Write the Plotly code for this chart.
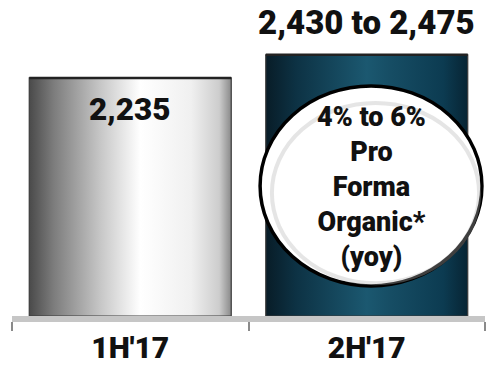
import plotly.graph_objects as go

categories = ["1H'17", "2H'17"]
values = [2235, 2452.5]
value_labels = ["2,235", "2,430 to 2,475"]
bubble_text = ["4% to 6%", "Pro", "Forma", "Organic*", "(yoy)"]

FONT = "Roboto"
W = 900
bar_w = 0.854

grad1 = [[0, '#4a4a4a'], [0.12, '#7c7c7c'], [0.35, '#c6c6c6'], [0.55, '#ffffff'],
         [0.8, '#f0f0f0'], [0.94, '#cdcdcd'], [1, '#8a8a8a']]
grad2 = [[0, '#081c27'], [0.15, '#0d3244'], [0.5, '#1b5870'], [0.62, '#164d64'],
         [0.88, '#0c3b51'], [1, '#072433']]
grads = [grad1, grad2]

fig = go.Figure()
for i, (c, v) in enumerate(zip(categories, values)):
    xs = [i - bar_w / 2, i + bar_w / 2, i + bar_w / 2, i - bar_w / 2, i - bar_w / 2]
    ys = [0, 0, v, v, 0]
    fig.add_trace(go.Scatter(
        x=xs, y=ys, mode='lines', fill='toself',
        fillgradient=dict(type='horizontal', colorscale=grads[i]),
        line=dict(color='#3a3a3a', width=1.2), hoverinfo='skip', showlegend=False))
    fig.add_trace(go.Scatter(
        x=[i - bar_w / 2, i + bar_w / 2], y=[v, v], mode='lines',
        line=dict(color='#222222', width=2.5), hoverinfo='skip', showlegend=False))

fig.add_annotation(x=0, y=values[0], text=value_labels[0], showarrow=False,
                   yanchor='top', yshift=-11, font=dict(family=FONT, size=31.5, weight=W, color='#111111'))
fig.add_annotation(x=1, y=values[1], text=value_labels[1], showarrow=False,
                   yanchor='bottom', yshift=11, font=dict(family=FONT, size=33, weight=W, color='#111111'))

cx = 1 + 0.018
cy = values[1] * 0.498
rx = 0.469
ry = values[1] * 0.383
fig.add_shape(type='circle', xref='x', yref='y', x0=cx - rx, x1=cx + rx, y0=cy - ry, y1=cy + ry,
              fillcolor='white', line=dict(color='black', width=3.5), layer='above')
fig.add_shape(type='circle', xref='x', yref='y',
              x0=cx - rx + 0.05, x1=cx + rx - 0.012, y0=cy - ry + 25, y1=cy + ry - 160,
              fillcolor='rgba(0,0,0,0)', line=dict(color='rgba(180,180,180,0.35)', width=4), layer='above')
fig.add_annotation(x=cx, y=cy, text="<br>".join(bubble_text), showarrow=False,
                   font=dict(family=FONT, size=27, weight=W, color='#111111'), yshift=-1)

fig.update_layout(
    width=487, height=367,
    margin=dict(l=12, r=2, t=0, b=51),
    paper_bgcolor='white', plot_bgcolor='white',
    xaxis=dict(range=[-0.5, 1.5], tickvals=[0, 1], ticktext=categories, automargin=False,
               showgrid=False, zeroline=False, showline=True, linecolor='#c6c6c6', linewidth=6,
               ticks='', ticklabelstandoff=0,
               tickfont=dict(family=FONT, size=30, weight=W, color='#111111'),
               minor=dict(tickvals=[-0.5, 0.5, 1.5], ticks='outside', ticklen=9, tickwidth=2,
                          tickcolor='#8a8a8a', showgrid=False)),
    yaxis=dict(range=[0, 2967], visible=False, showgrid=False, zeroline=False, automargin=False),
)

fig.write_html("out.html")
